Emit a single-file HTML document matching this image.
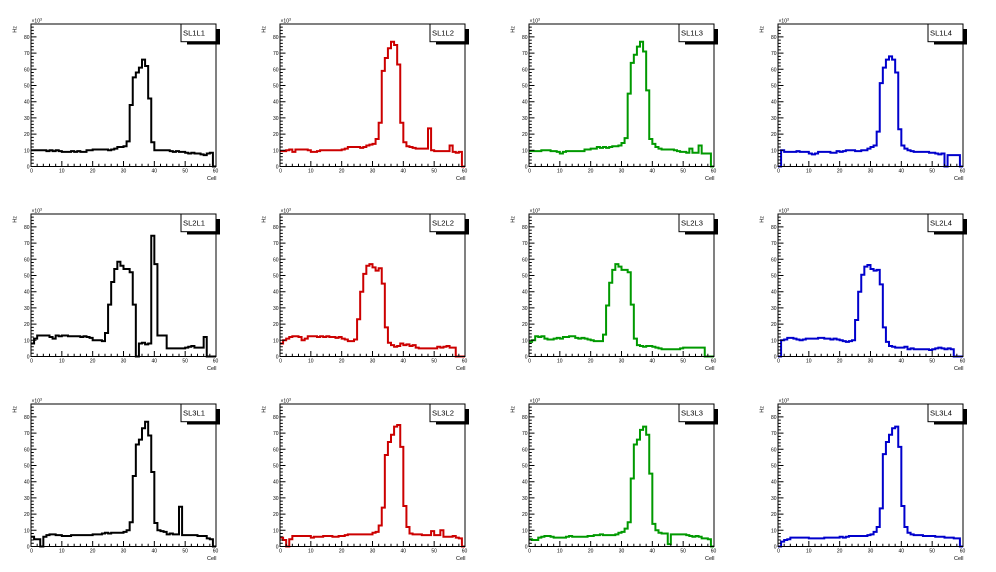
<!DOCTYPE html>
<html><head><meta charset="utf-8"><style>
html,body{margin:0;padding:0;background:#fff;}
svg{display:block;}
text{font-family:"Liberation Sans",Arial,sans-serif;fill:#000;}
.yl{font-size:5px;text-anchor:end;}
.xl{font-size:5px;text-anchor:middle;}
.t{font-size:5.5px;}
.lg{font-size:7.6px;}
.h{fill:none;stroke-width:2;vector-effect:non-scaling-stroke;stroke-linejoin:miter;}
.tk{fill:none;stroke:#000;stroke-width:1;vector-effect:non-scaling-stroke;}
</style></head><body>
<svg width="996" height="572" viewBox="0 0 996 572" xmlns="http://www.w3.org/2000/svg">
<rect width="996" height="572" fill="#fff"/>
<defs>
<g id="ax">
<rect x="31" y="24" width="185" height="142.5" fill="none" stroke="#000" stroke-width="1"/>
<g transform="translate(31,166.5) scale(3.08333,-1.62)"><path class="tk" d="M2,0V1.73M4,0V1.73M6,0V1.73M8,0V1.73M12,0V1.73M14,0V1.73M16,0V1.73M18,0V1.73M22,0V1.73M24,0V1.73M26,0V1.73M28,0V1.73M32,0V1.73M34,0V1.73M36,0V1.73M38,0V1.73M42,0V1.73M44,0V1.73M46,0V1.73M48,0V1.73M52,0V1.73M54,0V1.73M56,0V1.73M58,0V1.73M10,0V3.4M20,0V3.4M30,0V3.4M40,0V3.4M50,0V3.4M0,2H0.91M0,4H0.91M0,6H0.91M0,8H0.91M0,12H0.91M0,14H0.91M0,16H0.91M0,18H0.91M0,22H0.91M0,24H0.91M0,26H0.91M0,28H0.91M0,32H0.91M0,34H0.91M0,36H0.91M0,38H0.91M0,42H0.91M0,44H0.91M0,46H0.91M0,48H0.91M0,52H0.91M0,54H0.91M0,56H0.91M0,58H0.91M0,62H0.91M0,64H0.91M0,66H0.91M0,68H0.91M0,72H0.91M0,74H0.91M0,76H0.91M0,78H0.91M0,82H0.91M0,84H0.91M0,86H0.91M0,10H1.78M0,20H1.78M0,30H1.78M0,40H1.78M0,50H1.78M0,60H1.78M0,70H1.78M0,80H1.78"/></g>
<rect x="187" y="29" width="33" height="15.5" fill="#000"/>
<rect x="181" y="24" width="35" height="17.7" fill="#fff" stroke="#000" stroke-width="1"/>
</g>
</defs>

<!-- Row 1 -->
<g transform="translate(0,0)">
<g transform="translate(31,166.5) scale(3.08333,-1.62)"><path class="h" stroke="#000" d="M0,10H5V9.5H6V10H7V9.5H8V10H9V9.5H10V9H13V9.5H14V9H15V9.5H16V9H18V10H20V10.5H25V10H26V10.5H27V11H28V12H30V12.5H31V15.5H32V38H33V55H34V58H35V61H36V66H37V62H38V42H39V15H40V10H45V9.5H46V9H47V9.5H48V9H50V8.5H51V8H52V8.5H53V8H55V7.5H56V7H57V8H58V8.5H59V0H60"/></g>
<use href="#ax"/>
<text class="yl"><tspan x="29.5" y="168.5">0</tspan><tspan x="29.5" y="152.3">10</tspan><tspan x="29.5" y="136.1">20</tspan><tspan x="29.5" y="119.9">30</tspan><tspan x="29.5" y="103.7">40</tspan><tspan x="29.5" y="87.5">50</tspan><tspan x="29.5" y="71.3">60</tspan><tspan x="29.5" y="55.1">70</tspan><tspan x="29.5" y="38.9">80</tspan></text>
<text class="xl"><tspan x="31.5" y="172.5">0</tspan><tspan x="61.8" y="172.5">10</tspan><tspan x="92.7" y="172.5">20</tspan><tspan x="123.5" y="172.5">30</tspan><tspan x="154.3" y="172.5">40</tspan><tspan x="185.2" y="172.5">50</tspan><tspan x="215.5" y="172.5">60</tspan></text>
<text class="yl" x="31.5" y="22.5" style="text-anchor:start">×10<tspan font-size="3.5" dy="-2">3</tspan></text>
<text class="t" transform="translate(16.7,26) rotate(-90)" text-anchor="end">Hz</text>
<text class="t" x="216.5" y="180" text-anchor="end">Cell</text>
<text class="lg" x="183" y="35.5">SL1L1</text>
</g>

<g transform="translate(249,0)">
<g transform="translate(31,166.5) scale(3.08333,-1.62)"><path class="h" stroke="#cc0000" d="M0,9.5H2V10H3V10.5H4V9H5V10.5H9V10H10V9H12V9.5H13V10H20V10.5H21V11H22V12H26V11.5H27V12H28V13H29V13.5H30V14H31V17H32V27H33V59H34V67H35V73H36V77H37V75H38V63H39V27H40V15H41V12.5H42V12H43V11.5H44V11H48V23.5H49V10H50V9.5H55V13H56V9H57V8.5H58V9H59V0H60"/></g>
<use href="#ax"/>
<text class="yl"><tspan x="29.5" y="168.5">0</tspan><tspan x="29.5" y="152.3">10</tspan><tspan x="29.5" y="136.1">20</tspan><tspan x="29.5" y="119.9">30</tspan><tspan x="29.5" y="103.7">40</tspan><tspan x="29.5" y="87.5">50</tspan><tspan x="29.5" y="71.3">60</tspan><tspan x="29.5" y="55.1">70</tspan><tspan x="29.5" y="38.9">80</tspan></text>
<text class="xl"><tspan x="31.5" y="172.5">0</tspan><tspan x="61.8" y="172.5">10</tspan><tspan x="92.7" y="172.5">20</tspan><tspan x="123.5" y="172.5">30</tspan><tspan x="154.3" y="172.5">40</tspan><tspan x="185.2" y="172.5">50</tspan><tspan x="215.5" y="172.5">60</tspan></text>
<text class="yl" x="31.5" y="22.5" style="text-anchor:start">×10<tspan font-size="3.5" dy="-2">3</tspan></text>
<text class="t" transform="translate(16.7,26) rotate(-90)" text-anchor="end">Hz</text>
<text class="t" x="216.5" y="180" text-anchor="end">Cell</text>
<text class="lg" x="183" y="35.5">SL1L2</text>
</g>

<g transform="translate(498,0)">
<g transform="translate(31,166.5) scale(3.08333,-1.62)"><path class="h" stroke="#009900" d="M0,9.5H4V10H7V9.5H9V9H10V8H11V9H12V9.5H18V10.5H20V11H22V12H23V11.5H24V12H25V11.5H26V12H27V12.5H29V13H30V14.5H31V17.5H32V45H33V64H34V69H35V74H36V77H37V71H38V47H39V17H40V14H41V12H42V11H43V10.5H47V10H48V9.5H49V9H51V8.5H52V11H53V8.5H55V13H56V8H59V0H60"/></g>
<use href="#ax"/>
<text class="yl"><tspan x="29.5" y="168.5">0</tspan><tspan x="29.5" y="152.3">10</tspan><tspan x="29.5" y="136.1">20</tspan><tspan x="29.5" y="119.9">30</tspan><tspan x="29.5" y="103.7">40</tspan><tspan x="29.5" y="87.5">50</tspan><tspan x="29.5" y="71.3">60</tspan><tspan x="29.5" y="55.1">70</tspan><tspan x="29.5" y="38.9">80</tspan></text>
<text class="xl"><tspan x="31.5" y="172.5">0</tspan><tspan x="61.8" y="172.5">10</tspan><tspan x="92.7" y="172.5">20</tspan><tspan x="123.5" y="172.5">30</tspan><tspan x="154.3" y="172.5">40</tspan><tspan x="185.2" y="172.5">50</tspan><tspan x="215.5" y="172.5">60</tspan></text>
<text class="yl" x="31.5" y="22.5" style="text-anchor:start">×10<tspan font-size="3.5" dy="-2">3</tspan></text>
<text class="t" transform="translate(16.7,26) rotate(-90)" text-anchor="end">Hz</text>
<text class="t" x="216.5" y="180" text-anchor="end">Cell</text>
<text class="lg" x="183" y="35.5">SL1L3</text>
</g>

<g transform="translate(747,0)">
<g transform="translate(31,166.5) scale(3.08333,-1.62)"><path class="h" stroke="#0000cc" d="M0,0H1V10H2V9H6V9.5H7V9H10V8H11V7.5H12V8H13V9H17V8.5H19V9.5H20V9H21V9.5H22V10H25V9.5H27V10H29V11H30V12H31V13H32V21.5H33V51.5H34V61H35V66H36V68H37V66H38V58H39V23H40V13H41V11H42V10H43V9.5H44V9H49V8.5H51V8H52V7.5H53V8H54V0H55V7H59V0H60"/></g>
<use href="#ax"/>
<text class="yl"><tspan x="29.5" y="168.5">0</tspan><tspan x="29.5" y="152.3">10</tspan><tspan x="29.5" y="136.1">20</tspan><tspan x="29.5" y="119.9">30</tspan><tspan x="29.5" y="103.7">40</tspan><tspan x="29.5" y="87.5">50</tspan><tspan x="29.5" y="71.3">60</tspan><tspan x="29.5" y="55.1">70</tspan><tspan x="29.5" y="38.9">80</tspan></text>
<text class="xl"><tspan x="31.5" y="172.5">0</tspan><tspan x="61.8" y="172.5">10</tspan><tspan x="92.7" y="172.5">20</tspan><tspan x="123.5" y="172.5">30</tspan><tspan x="154.3" y="172.5">40</tspan><tspan x="185.2" y="172.5">50</tspan><tspan x="215.5" y="172.5">60</tspan></text>
<text class="yl" x="31.5" y="22.5" style="text-anchor:start">×10<tspan font-size="3.5" dy="-2">3</tspan></text>
<text class="t" transform="translate(16.7,26) rotate(-90)" text-anchor="end">Hz</text>
<text class="t" x="216.5" y="180" text-anchor="end">Cell</text>
<text class="lg" x="183" y="35.5">SL1L4</text>
</g>

<!-- Row 2 -->
<g transform="translate(0,190)">
<g transform="translate(31,166.5) scale(3.08333,-1.62)"><path class="h" stroke="#000" d="M0,8H1V11H2V13H6V12H7V11H8V13H9V12.5H10V13H12V12.5H16V12H17V12.5H18V12H19V11.5H20V10H23V9.5H24V14.5H25V32H26V46H27V54H28V58.5H29V56H30V54H32V52H33V32H34V0H35V8H36V8.5H37V7.5H38V8H39V74.5H40V57H41V13H44V5H50V5.5H51V6H52V6.5H53V5.5H56V12H57V0H60"/></g>
<use href="#ax"/>
<text class="yl"><tspan x="29.5" y="168.5">0</tspan><tspan x="29.5" y="152.3">10</tspan><tspan x="29.5" y="136.1">20</tspan><tspan x="29.5" y="119.9">30</tspan><tspan x="29.5" y="103.7">40</tspan><tspan x="29.5" y="87.5">50</tspan><tspan x="29.5" y="71.3">60</tspan><tspan x="29.5" y="55.1">70</tspan><tspan x="29.5" y="38.9">80</tspan></text>
<text class="xl"><tspan x="31.5" y="172.5">0</tspan><tspan x="61.8" y="172.5">10</tspan><tspan x="92.7" y="172.5">20</tspan><tspan x="123.5" y="172.5">30</tspan><tspan x="154.3" y="172.5">40</tspan><tspan x="185.2" y="172.5">50</tspan><tspan x="215.5" y="172.5">60</tspan></text>
<text class="yl" x="31.5" y="22.5" style="text-anchor:start">×10<tspan font-size="3.5" dy="-2">3</tspan></text>
<text class="t" transform="translate(16.7,26) rotate(-90)" text-anchor="end">Hz</text>
<text class="t" x="216.5" y="180" text-anchor="end">Cell</text>
<text class="lg" x="183" y="35.5">SL2L1</text>
</g>

<g transform="translate(249,190)">
<g transform="translate(31,166.5) scale(3.08333,-1.62)"><path class="h" stroke="#cc0000" d="M0,8H1V10H2V11H3V12H4V12.5H6V12H7V10H8V11H9V12.5H12V12H13V12.5H14V12H15V12.5H16V12H18V11.5H19V12H20V11H21V10.5H22V9.5H24V10.5H25V23H26V40H27V51H28V56H29V57H30V55H31V53H32V54.5H33V45H34V18H35V8.5H36V7H37V6H38V6.5H39V8H40V7H41V7.5H42V6.5H43V7H44V5.5H45V5H51V6H52V5.5H53V6H54V6.5H55V5.5H57V0H60"/></g>
<use href="#ax"/>
<text class="yl"><tspan x="29.5" y="168.5">0</tspan><tspan x="29.5" y="152.3">10</tspan><tspan x="29.5" y="136.1">20</tspan><tspan x="29.5" y="119.9">30</tspan><tspan x="29.5" y="103.7">40</tspan><tspan x="29.5" y="87.5">50</tspan><tspan x="29.5" y="71.3">60</tspan><tspan x="29.5" y="55.1">70</tspan><tspan x="29.5" y="38.9">80</tspan></text>
<text class="xl"><tspan x="31.5" y="172.5">0</tspan><tspan x="61.8" y="172.5">10</tspan><tspan x="92.7" y="172.5">20</tspan><tspan x="123.5" y="172.5">30</tspan><tspan x="154.3" y="172.5">40</tspan><tspan x="185.2" y="172.5">50</tspan><tspan x="215.5" y="172.5">60</tspan></text>
<text class="yl" x="31.5" y="22.5" style="text-anchor:start">×10<tspan font-size="3.5" dy="-2">3</tspan></text>
<text class="t" transform="translate(16.7,26) rotate(-90)" text-anchor="end">Hz</text>
<text class="t" x="216.5" y="180" text-anchor="end">Cell</text>
<text class="lg" x="183" y="35.5">SL2L2</text>
</g>

<g transform="translate(498,190)">
<g transform="translate(31,166.5) scale(3.08333,-1.62)"><path class="h" stroke="#009900" d="M0,9H1V10H2V12.5H3V12H4V12.5H5V11H6V10.5H8V11H9V11.5H10V11H11V12H13V12.5H15V11.5H16V11H17V11.5H18V11H19V10.5H20V10H21V9.5H24V13.5H25V31.5H26V45.5H27V53.5H28V57H29V55.5H30V53.5H32V52H33V32H34V11H35V7H36V6.5H37V6H38V6.5H40V6H41V5.5H42V5H43V4.5H49V5H50V5.5H57V0H60"/></g>
<use href="#ax"/>
<text class="yl"><tspan x="29.5" y="168.5">0</tspan><tspan x="29.5" y="152.3">10</tspan><tspan x="29.5" y="136.1">20</tspan><tspan x="29.5" y="119.9">30</tspan><tspan x="29.5" y="103.7">40</tspan><tspan x="29.5" y="87.5">50</tspan><tspan x="29.5" y="71.3">60</tspan><tspan x="29.5" y="55.1">70</tspan><tspan x="29.5" y="38.9">80</tspan></text>
<text class="xl"><tspan x="31.5" y="172.5">0</tspan><tspan x="61.8" y="172.5">10</tspan><tspan x="92.7" y="172.5">20</tspan><tspan x="123.5" y="172.5">30</tspan><tspan x="154.3" y="172.5">40</tspan><tspan x="185.2" y="172.5">50</tspan><tspan x="215.5" y="172.5">60</tspan></text>
<text class="yl" x="31.5" y="22.5" style="text-anchor:start">×10<tspan font-size="3.5" dy="-2">3</tspan></text>
<text class="t" transform="translate(16.7,26) rotate(-90)" text-anchor="end">Hz</text>
<text class="t" x="216.5" y="180" text-anchor="end">Cell</text>
<text class="lg" x="183" y="35.5">SL2L3</text>
</g>

<g transform="translate(747,190)">
<g transform="translate(31,166.5) scale(3.08333,-1.62)"><path class="h" stroke="#0000cc" d="M0,0H1V10H2V10.5H3V11.5H5V11H6V10.5H7V10H8V10.5H9V11H13V11.5H15V11H17V10.5H18V11H19V10.5H20V10H21V9.5H22V9H23V9.5H24V10H25V22.5H26V40H27V50.5H28V55.5H29V56.5H30V54H31V53H32V53.5H33V44.5H34V18H35V9H36V6.5H37V6H38V5.5H41V6H42V4.5H43V5H44V4.5H49V4H50V4.5H51V5H52V5.5H53V5H54V4.5H55V5H56V4.5H57V0H60"/></g>
<use href="#ax"/>
<text class="yl"><tspan x="29.5" y="168.5">0</tspan><tspan x="29.5" y="152.3">10</tspan><tspan x="29.5" y="136.1">20</tspan><tspan x="29.5" y="119.9">30</tspan><tspan x="29.5" y="103.7">40</tspan><tspan x="29.5" y="87.5">50</tspan><tspan x="29.5" y="71.3">60</tspan><tspan x="29.5" y="55.1">70</tspan><tspan x="29.5" y="38.9">80</tspan></text>
<text class="xl"><tspan x="31.5" y="172.5">0</tspan><tspan x="61.8" y="172.5">10</tspan><tspan x="92.7" y="172.5">20</tspan><tspan x="123.5" y="172.5">30</tspan><tspan x="154.3" y="172.5">40</tspan><tspan x="185.2" y="172.5">50</tspan><tspan x="215.5" y="172.5">60</tspan></text>
<text class="yl" x="31.5" y="22.5" style="text-anchor:start">×10<tspan font-size="3.5" dy="-2">3</tspan></text>
<text class="t" transform="translate(16.7,26) rotate(-90)" text-anchor="end">Hz</text>
<text class="t" x="216.5" y="180" text-anchor="end">Cell</text>
<text class="lg" x="183" y="35.5">SL2L4</text>
</g>

<!-- Row 3 -->
<g transform="translate(0,380)">
<g transform="translate(31,166.5) scale(3.08333,-1.62)"><path class="h" stroke="#000" d="M0,6H1V4.5H3V0H4V6H5V7H6V7.5H8V7H10V6.5H13V7H20V7.5H23V8H24V8.5H25V8H26V8.5H30V9H31V10H32V15H33V43.5H34V63H35V66H36V73H37V77H38V68.5H39V46H40V14.5H41V10H42V9.5H43V9H44V7.5H45V8H46V7.5H48V24.5H49V7H54V6.5H57V5H58V4.5H59V0H60"/></g>
<use href="#ax"/>
<text class="yl"><tspan x="29.5" y="168.5">0</tspan><tspan x="29.5" y="152.3">10</tspan><tspan x="29.5" y="136.1">20</tspan><tspan x="29.5" y="119.9">30</tspan><tspan x="29.5" y="103.7">40</tspan><tspan x="29.5" y="87.5">50</tspan><tspan x="29.5" y="71.3">60</tspan><tspan x="29.5" y="55.1">70</tspan><tspan x="29.5" y="38.9">80</tspan></text>
<text class="xl"><tspan x="31.5" y="172.5">0</tspan><tspan x="61.8" y="172.5">10</tspan><tspan x="92.7" y="172.5">20</tspan><tspan x="123.5" y="172.5">30</tspan><tspan x="154.3" y="172.5">40</tspan><tspan x="185.2" y="172.5">50</tspan><tspan x="215.5" y="172.5">60</tspan></text>
<text class="yl" x="31.5" y="22.5" style="text-anchor:start">×10<tspan font-size="3.5" dy="-2">3</tspan></text>
<text class="t" transform="translate(16.7,26) rotate(-90)" text-anchor="end">Hz</text>
<text class="t" x="216.5" y="180" text-anchor="end">Cell</text>
<text class="lg" x="183" y="35.5">SL3L1</text>
</g>

<g transform="translate(249,380)">
<g transform="translate(31,166.5) scale(3.08333,-1.62)"><path class="h" stroke="#cc0000" d="M0,5.5H1V4H2V0H3V4.5H4V6.5H10V5.5H11V6H14V6.5H17V6H19V6.5H21V7H22V7.5H30V8.5H31V9H32V13H33V24H34V56.5H35V64.5H36V69H37V74H38V75H39V61.5H40V25H41V12H42V8H43V7.5H46V7H49V9.5H50V7H52V10H53V6H56V6.5H57V5.5H58V5H59V0H60"/></g>
<use href="#ax"/>
<text class="yl"><tspan x="29.5" y="168.5">0</tspan><tspan x="29.5" y="152.3">10</tspan><tspan x="29.5" y="136.1">20</tspan><tspan x="29.5" y="119.9">30</tspan><tspan x="29.5" y="103.7">40</tspan><tspan x="29.5" y="87.5">50</tspan><tspan x="29.5" y="71.3">60</tspan><tspan x="29.5" y="55.1">70</tspan><tspan x="29.5" y="38.9">80</tspan></text>
<text class="xl"><tspan x="31.5" y="172.5">0</tspan><tspan x="61.8" y="172.5">10</tspan><tspan x="92.7" y="172.5">20</tspan><tspan x="123.5" y="172.5">30</tspan><tspan x="154.3" y="172.5">40</tspan><tspan x="185.2" y="172.5">50</tspan><tspan x="215.5" y="172.5">60</tspan></text>
<text class="yl" x="31.5" y="22.5" style="text-anchor:start">×10<tspan font-size="3.5" dy="-2">3</tspan></text>
<text class="t" transform="translate(16.7,26) rotate(-90)" text-anchor="end">Hz</text>
<text class="t" x="216.5" y="180" text-anchor="end">Cell</text>
<text class="lg" x="183" y="35.5">SL3L2</text>
</g>

<g transform="translate(498,380)">
<g transform="translate(31,166.5) scale(3.08333,-1.62)"><path class="h" stroke="#009900" d="M0,4.5H1V4H3V5.5H4V6H5V6.5H7V6H8V5.5H12V6H13V6.5H14V6H19V6.5H21V7H23V7.5H24V7H28V7.5H29V8.5H30V9H31V11H32V15H33V42H34V63H35V66H36V72H37V74H38V69H39V45H40V14H41V10H42V8.5H43V8H45V1.5H46V7.5H51V7H52V6.5H53V6H54V6.5H55V6H56V5H58V4.5H59V0H60"/></g>
<use href="#ax"/>
<text class="yl"><tspan x="29.5" y="168.5">0</tspan><tspan x="29.5" y="152.3">10</tspan><tspan x="29.5" y="136.1">20</tspan><tspan x="29.5" y="119.9">30</tspan><tspan x="29.5" y="103.7">40</tspan><tspan x="29.5" y="87.5">50</tspan><tspan x="29.5" y="71.3">60</tspan><tspan x="29.5" y="55.1">70</tspan><tspan x="29.5" y="38.9">80</tspan></text>
<text class="xl"><tspan x="31.5" y="172.5">0</tspan><tspan x="61.8" y="172.5">10</tspan><tspan x="92.7" y="172.5">20</tspan><tspan x="123.5" y="172.5">30</tspan><tspan x="154.3" y="172.5">40</tspan><tspan x="185.2" y="172.5">50</tspan><tspan x="215.5" y="172.5">60</tspan></text>
<text class="yl" x="31.5" y="22.5" style="text-anchor:start">×10<tspan font-size="3.5" dy="-2">3</tspan></text>
<text class="t" transform="translate(16.7,26) rotate(-90)" text-anchor="end">Hz</text>
<text class="t" x="216.5" y="180" text-anchor="end">Cell</text>
<text class="lg" x="183" y="35.5">SL3L3</text>
</g>

<g transform="translate(747,380)">
<g transform="translate(31,166.5) scale(3.08333,-1.62)"><path class="h" stroke="#0000cc" d="M0,0H1V3H2V4H3V4.5H4V5.5H10V5H15V5.5H20V6H21V5.5H22V6H23V6.5H29V7H30V7.5H31V9H32V12H33V23.5H34V57H35V64.5H36V69H37V73H38V74H39V61.5H40V25H41V12H42V8.5H43V7.5H44V7H47V6.5H51V6H54V5.5H57V5H59V0H60"/></g>
<use href="#ax"/>
<text class="yl"><tspan x="29.5" y="168.5">0</tspan><tspan x="29.5" y="152.3">10</tspan><tspan x="29.5" y="136.1">20</tspan><tspan x="29.5" y="119.9">30</tspan><tspan x="29.5" y="103.7">40</tspan><tspan x="29.5" y="87.5">50</tspan><tspan x="29.5" y="71.3">60</tspan><tspan x="29.5" y="55.1">70</tspan><tspan x="29.5" y="38.9">80</tspan></text>
<text class="xl"><tspan x="31.5" y="172.5">0</tspan><tspan x="61.8" y="172.5">10</tspan><tspan x="92.7" y="172.5">20</tspan><tspan x="123.5" y="172.5">30</tspan><tspan x="154.3" y="172.5">40</tspan><tspan x="185.2" y="172.5">50</tspan><tspan x="215.5" y="172.5">60</tspan></text>
<text class="yl" x="31.5" y="22.5" style="text-anchor:start">×10<tspan font-size="3.5" dy="-2">3</tspan></text>
<text class="t" transform="translate(16.7,26) rotate(-90)" text-anchor="end">Hz</text>
<text class="t" x="216.5" y="180" text-anchor="end">Cell</text>
<text class="lg" x="183" y="35.5">SL3L4</text>
</g>
</svg>
</body></html>
